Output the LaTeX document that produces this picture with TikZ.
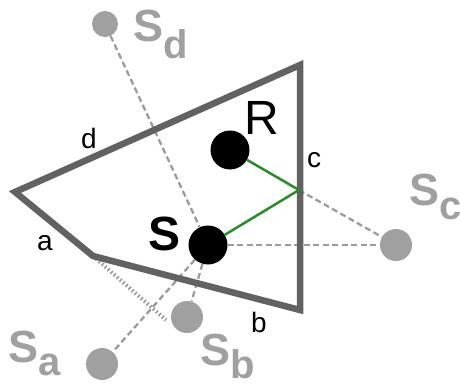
\documentclass[tikz,border=0pt]{standalone}
\usepackage{fontspec}
\setmainfont{Liberation Sans}
\definecolor{wallgray}{RGB}{98,98,98}
\definecolor{imggray}{RGB}{160,160,160}
\definecolor{dashgray}{RGB}{155,155,155}
\definecolor{raygreen}{RGB}{40,140,40}
\newcommand{\imgname}[2][13pt]{S\raisebox{-#1}{\fontsize{40}{40}\selectfont #2}}

\begin{document}
\begin{tikzpicture}[
    x=1pt, y=-1pt,
    wall/.style={draw=wallgray, line width=6.5pt, line join=miter},
    src/.style={circle, fill=black, inner sep=0pt, minimum size=39pt},
    img/.style={circle, fill=imggray, inner sep=0pt, minimum size=32pt},
    ray/.style={draw=raygreen, line width=2.5pt},
    aux/.style={draw=dashgray, line width=2.3pt, dash pattern=on 6pt off 3.5pt},
    hatch/.style={draw=dashgray, line width=4pt, dash pattern=on 1.6pt off 2.4pt},
    lbl/.style={anchor=base, inner sep=0pt, font=\fontsize{28}{28}\selectfont},
    big/.style={anchor=base west, inner sep=0pt, text=imggray, font=\bfseries\fontsize{45}{45}\selectfont}
]
    \useasboundingbox (0,0) rectangle (460,385);

    % room corners
    \coordinate (A) at (15,192);   % left tip
    \coordinate (B) at (93,256);   % lower left
    \coordinate (C) at (300,310);  % lower right
    \coordinate (D) at (300,65);   % upper right
    \coordinate (P) at (299,190);  % reflection point on c
    \coordinate (H) at (166,320);

    % source, receiver and image sources
    \node[src] (S) at (208,245) {};
    \node[src] (R) at (230,150) {};
    \node[img, minimum size=26pt] (Sd) at (105,24) {};
    \node[img] (Sc) at (396,245) {};
    \node[img] (Sa) at (102,364) {};
    \node[img] (Sb) at (187,317) {};

    % 1. dashed construction lines
    \draw[aux] (S) -- (Sc);
    \draw[aux] (P) -- (Sc);
    \draw[aux] (Sd) -- (S);
    \draw[aux] (S) -- (Sb);
    \draw[aux] (S) -- (Sa);
    \draw[hatch] (B) -- (H);

    % 2. walls
    \draw[wall] (A) -- (B) -- (C) -- (D) -- cycle;

    % 3. reflected path
    \draw[ray] (R) -- (P) -- (S);

    % labels
    \node[big] (lSd) at (133,42) {\imgname[17pt]{d}};
    \node[big] (lSc) at (409,205) {\imgname[14pt]{c}};
    \node[big] (lSa) at (8,362) {\imgname{a}};
    \node[big] (lSb) at (200,365) {\imgname{b}};
    \node[anchor=base west, inner sep=0pt, font=\bfseries\fontsize{48}{48}\selectfont] (lS) at (148,250) {S};
    \node[anchor=base west, inner sep=0pt, font=\fontsize{48}{48}\selectfont] (lR) at (244,135) {R};
    \node[lbl] (la) at (45,250) {a};
    \node[lbl] (lb) at (259,332) {b};
    \node[lbl] (lc) at (314,167) {c};
    \node[lbl] (ld) at (89,148) {d};
\end{tikzpicture}
\end{document}
